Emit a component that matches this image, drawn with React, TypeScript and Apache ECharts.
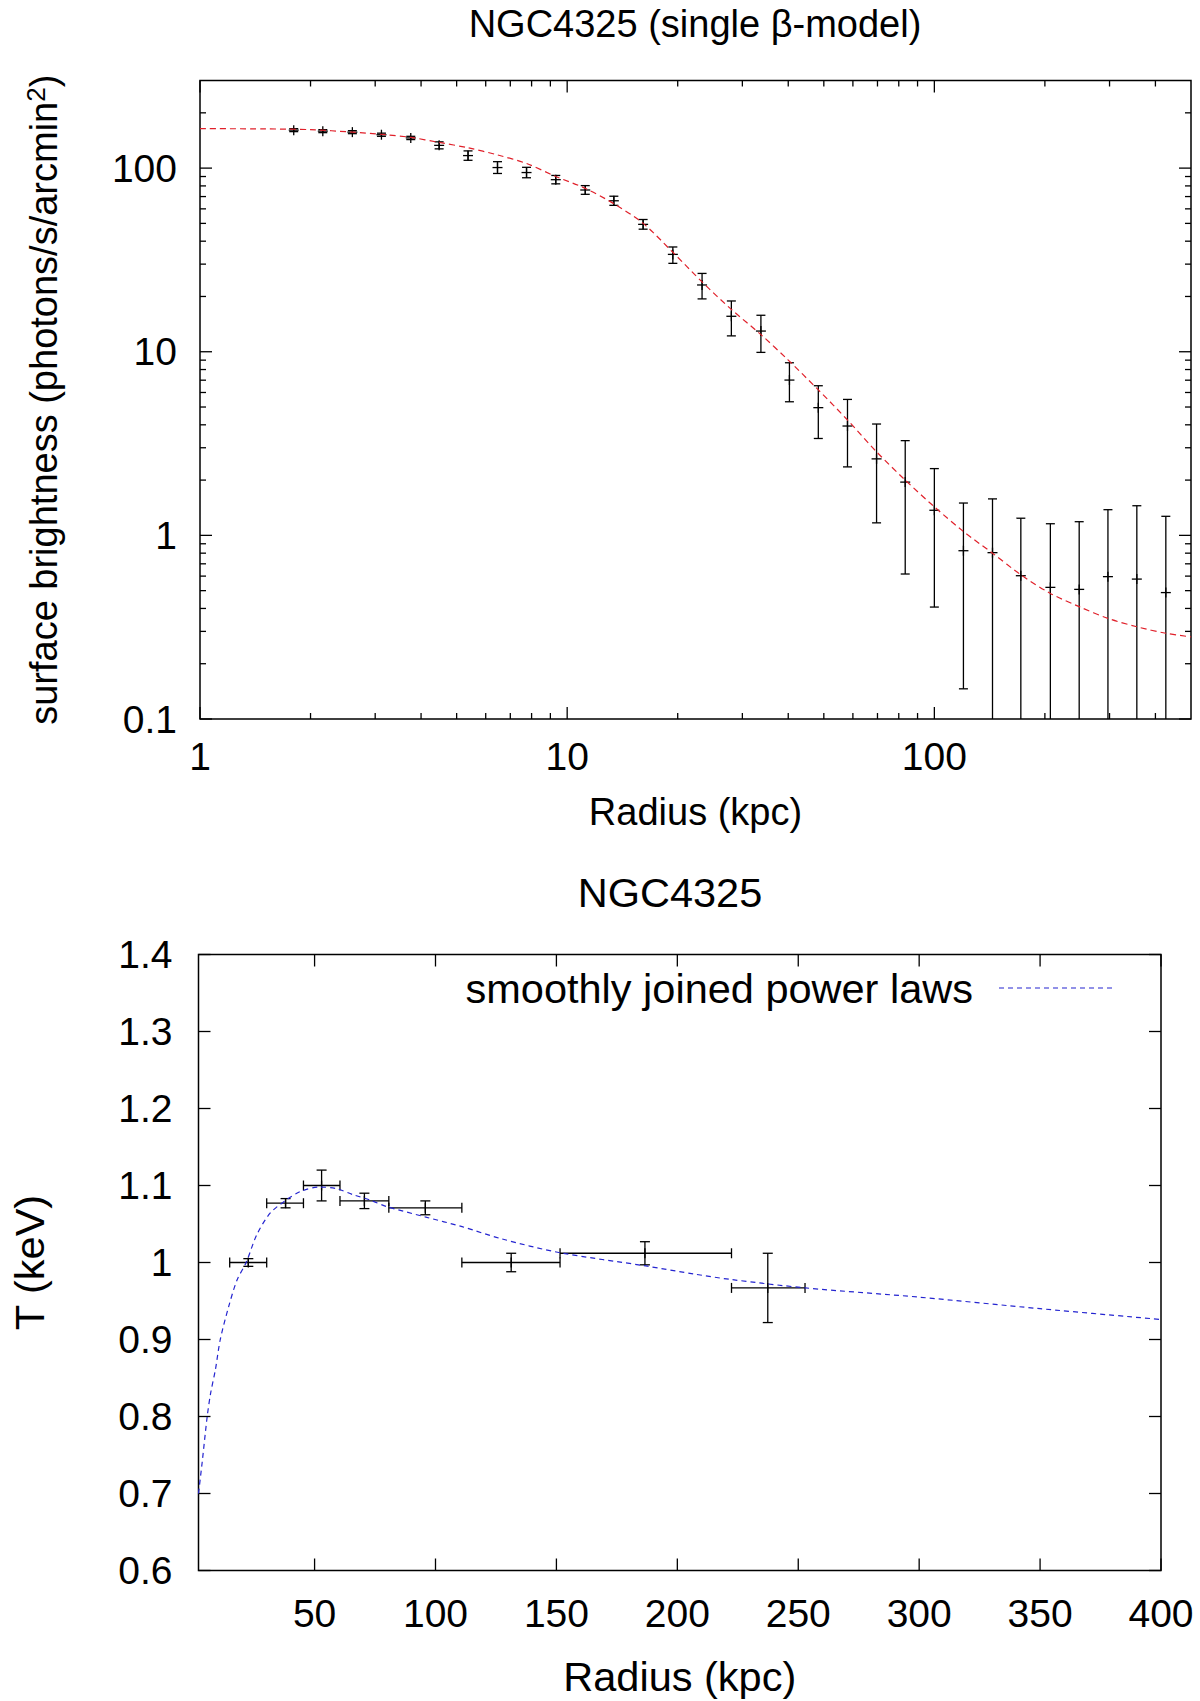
import React, { useEffect, useRef } from "react";
import * as echarts from "echarts";

const FONT = "'Liberation Sans', Arial, Helvetica, sans-serif";

// top panel: surface brightness profile
const sbRadius = [
  1.8, 2.16, 2.6, 3.12, 3.75, 4.48, 5.37, 6.46, 7.75, 9.31, 11.2, 13.4, 16.1, 19.4, 23.3, 28.0,
  33.7, 40.3, 48.3, 58.0, 69.6, 83.3, 100, 120, 144, 172, 207, 248, 297, 356, 427,
];
const sbValue = [
  161, 159, 157, 152, 146, 133, 117, 100.7, 94.6, 86.5, 76.0, 66.4, 49.4, 33.9, 23.1, 15.6,
  12.96, 7.01, 4.96, 3.94, 2.61, 1.95, 1.37, 0.825, 0.805, 0.603, 0.521, 0.508, 0.596, 0.578, 0.488,
];
const sbLow = [
  158, 156, 154, 149, 143, 127.3, 110.3, 93.5, 88.6, 82.1, 72.0, 62.7, 46.5, 30.3, 19.4, 12.2,
  9.92, 5.34, 3.37, 2.36, 1.17, 0.616, 0.407, 0.146, 0.01, 0.01, 0.01, 0.01, 0.01, 0.01, 0.01,
];
const sbHigh = [
  164, 162, 160, 155, 149, 139, 124.1, 108.4, 101, 91.2, 80.3, 70.3, 52.5, 37.2, 26.7, 18.9,
  15.8, 8.71, 6.53, 5.5, 4.04, 3.28, 2.31, 1.5, 1.58, 1.24, 1.157, 1.187, 1.38, 1.45, 1.27,
];
const sbModelRadius = [
  1, 1.5, 2, 2.6, 3.2, 3.75, 4.48, 5.37, 6.46, 7.75, 9.31, 11.2, 13.4, 16.1, 19.4, 23.3, 28,
  33.7, 40, 48.3, 58, 69.6, 83.3, 100, 120, 144, 172, 207, 248, 297, 356, 427, 500,
];
const sbModelValue = [
  164, 163.5, 162, 157, 152, 147, 138, 129, 118, 106, 90, 77.6, 64, 50, 34.8, 24, 17.0,
  12.4, 9.0, 6.2, 4.25, 2.85, 2.0, 1.43, 1.05, 0.8, 0.61, 0.483, 0.409, 0.353, 0.318, 0.293, 0.28,
];
const sbXMajor = [1, 10, 100];
const sbXMinor = [2, 3, 4, 5, 6, 7, 8, 9, 20, 30, 40, 50, 60, 70, 80, 90, 200, 300, 400];
const sbYMajor = [0.1, 1, 10, 100];
const sbYMinor = [
  0.2, 0.3, 0.4, 0.5, 0.6, 0.7, 0.8, 0.9, 2, 3, 4, 5, 6, 7, 8, 9, 20, 30, 40, 50, 60, 70, 80, 90, 200,
];

// bottom panel: temperature profile
const tRadius = [22.6, 38.0, 52.9, 70.6, 95.8, 131.3, 186.6, 237.4];
const tRadiusLow = [14.9, 30.2, 45.4, 60.5, 80.7, 110.9, 151.5, 222.4];
const tRadiusHigh = [30.2, 45.4, 60.5, 80.7, 110.9, 151.5, 222.4, 252.8];
const tValue = [1.0, 1.077, 1.1, 1.08, 1.071, 1.0, 1.012, 0.967];
const tError = [0.005, 0.006, 0.02, 0.01, 0.009, 0.012, 0.015, 0.045];
const tModelRadius = [
  2, 3.5, 5.6, 7, 9, 11, 14.5, 17.9, 21.7, 26.1, 31.6, 37.8, 44, 52, 59, 66, 73, 80, 96, 111,
  127, 151, 187, 207, 222, 253, 300, 350, 400,
];
const tModelValue = [
  0.7, 0.74, 0.8, 0.83, 0.861, 0.9, 0.943, 0.977, 1.0, 1.036, 1.064, 1.08, 1.092, 1.098, 1.096,
  1.088, 1.081, 1.0725, 1.059, 1.0465, 1.031, 1.013, 0.9955, 0.985, 0.978, 0.967, 0.955, 0.94, 0.926,
];
const tXTicks = [50, 100, 150, 200, 250, 300, 350, 400];
const tYTicks = [0.6, 0.7, 0.8, 0.9, 1.0, 1.1, 1.2, 1.3, 1.4];

const SB_X = [1, 500];
const SB_Y = [0.1, 300];
const T_X = [2, 400];
const T_Y = [0.6, 1.4];

const MAJOR = 12;
const MINOR = 6;
const INK = { stroke: "#000", lineWidth: 1.3 };

const line = (x1: number, y1: number, x2: number, y2: number, style: any = INK) => ({
  type: "line",
  shape: { x1, y1, x2, y2 },
  style,
});

// tick marks on all four sides, pointing inwards
const renderTick = (params: any, api: any) => {
  const cs = params.coordSys;
  const p = api.coord([api.value(0), api.value(1)]);
  const len = api.value(3);
  if (api.value(2) === 0) {
    const b = cs.y + cs.height;
    return {
      type: "group",
      children: [line(p[0], b, p[0], b - len), line(p[0], cs.y, p[0], cs.y + len)],
    };
  }
  const r = cs.x + cs.width;
  return {
    type: "group",
    children: [line(cs.x, p[1], cs.x + len, p[1]), line(r, p[1], r - len, p[1])],
  };
};

const renderSbError = (params: any, api: any) => {
  const x = api.value(0);
  const lo = api.value(2);
  const hi = api.value(3);
  const c = api.coord([x, api.value(1)]);
  const l = api.coord([x, Math.max(lo, SB_Y[0])]);
  const h = api.coord([x, Math.min(hi, SB_Y[1])]);
  const children: any[] = [
    line(c[0], l[1], c[0], h[1]),
    line(c[0] - 5, c[1], c[0] + 5, c[1]),
    line(c[0], c[1] - 5, c[0], c[1] + 5),
  ];
  if (lo >= SB_Y[0]) children.push(line(c[0] - 4.5, l[1], c[0] + 4.5, l[1]));
  if (hi <= SB_Y[1]) children.push(line(c[0] - 4.5, h[1], c[0] + 4.5, h[1]));
  return { type: "group", children };
};

const renderTError = (params: any, api: any) => {
  const c = api.coord([api.value(0), api.value(1)]);
  const xl = api.coord([api.value(2), api.value(1)])[0];
  const xh = api.coord([api.value(3), api.value(1)])[0];
  const yl = api.coord([api.value(0), api.value(4)])[1];
  const yh = api.coord([api.value(0), api.value(5)])[1];
  return {
    type: "group",
    children: [
      line(xl, c[1], xh, c[1]),
      line(xl, c[1] - 5, xl, c[1] + 5),
      line(xh, c[1] - 5, xh, c[1] + 5),
      line(c[0], yl, c[0], yh),
      line(c[0] - 5, yl, c[0] + 5, yl),
      line(c[0] - 5, yh, c[0] + 5, yh),
      line(c[0], c[1] - 5, c[0], c[1] + 5),
    ],
  };
};

const isDecade = (v: number) => Math.abs(Math.log10(v) - Math.round(Math.log10(v))) < 1e-6;
const decadeLabel = (v: number) => (isDecade(v) ? (v >= 1 ? String(Math.round(v)) : v.toFixed(1)) : "");

const labelStyle = (size: number, margin: number) => ({
  fontSize: size,
  color: "#000",
  fontFamily: FONT,
  margin,
});
const nameStyle = (size: number) => ({ fontSize: size, color: "#000", fontFamily: FONT });

const App: React.FC = () => {
  const chartRef = useRef<HTMLDivElement>(null);

  useEffect(() => {
    document.body.style.margin = "0";
    const chart = echarts.init(chartRef.current!, undefined, { renderer: "svg" });

    const sbTicks = [
      ...sbXMajor.map((v) => [v, SB_Y[0], 0, MAJOR]),
      ...sbXMinor.map((v) => [v, SB_Y[0], 0, MINOR]),
      ...sbYMajor.map((v) => [SB_X[0], v, 1, MAJOR]),
      ...sbYMinor.map((v) => [SB_X[0], v, 1, MINOR]),
    ];
    const tTicks = [
      ...tXTicks.map((v) => [v, T_Y[0], 0, MAJOR]),
      ...tYTicks.map((v) => [T_X[0], v, 1, MAJOR]),
    ];

    const option: echarts.EChartsOption = {
      animation: false,
      backgroundColor: "#fff",
      grid: [
        { left: 200, top: 80.5, width: 991, height: 638.5, show: true, borderColor: "#000", borderWidth: 1.5 },
        { left: 191, top: 954.5, width: 970, height: 616, show: true, borderColor: "#000", borderWidth: 1.5 },
      ],
      xAxis: [
        {
          gridIndex: 0,
          type: "log",
          logBase: 10,
          min: SB_X[0],
          max: SB_X[1],
          axisLine: { show: false },
          axisTick: { show: false },
          splitLine: { show: false },
          axisLabel: { ...labelStyle(39, 17.5), formatter: decadeLabel },
          name: "Radius (kpc)",
          nameLocation: "middle",
          nameGap: 73.5,
          nameTextStyle: nameStyle(38),
        },
        {
          gridIndex: 1,
          type: "value",
          min: T_X[0],
          max: T_X[1],
          axisLine: { show: false },
          axisTick: { show: false },
          splitLine: { show: false },
          axisLabel: { ...labelStyle(39, 23), customValues: tXTicks } as any,
          name: "Radius (kpc)",
          nameLocation: "middle",
          nameGap: 85,
          nameTextStyle: nameStyle(41.5),
        },
      ],
      yAxis: [
        {
          gridIndex: 0,
          type: "log",
          logBase: 10,
          min: SB_Y[0],
          max: SB_Y[1],
          axisLine: { show: false },
          axisTick: { show: false },
          splitLine: { show: false },
          axisLabel: { ...labelStyle(39, 23), formatter: decadeLabel },
          name: "surface brightness (photons/s/arcmin{sup|2})",
          nameLocation: "middle",
          nameGap: 135.4,
          nameTextStyle: {
            ...nameStyle(38),
            rich: { sup: { fontSize: 26, fontFamily: FONT, color: "#000", verticalAlign: "top", padding: [0, 0, 16, 0] } },
          },
        },
        {
          gridIndex: 1,
          type: "value",
          min: T_Y[0],
          max: T_Y[1],
          interval: 0.1,
          axisLine: { show: false },
          axisTick: { show: false },
          splitLine: { show: false },
          axisLabel: { ...labelStyle(39, 26), formatter: (v: number) => String(Math.round(v * 10) / 10) },
          name: "T (keV)",
          nameLocation: "middle",
          nameGap: 148.5,
          nameTextStyle: nameStyle(41.5),
        },
      ],
      series: [
        {
          type: "custom",
          xAxisIndex: 0,
          yAxisIndex: 0,
          renderItem: renderTick as any,
          data: sbTicks,
          silent: true,
        },
        {
          type: "line",
          xAxisIndex: 0,
          yAxisIndex: 0,
          data: sbModelRadius.map((r, i) => [r, sbModelValue[i]]),
          showSymbol: false,
          smooth: 0.3,
          lineStyle: { color: "#e0202a", width: 1.2, type: [6, 4] },
          silent: true,
        },
        {
          type: "custom",
          xAxisIndex: 0,
          yAxisIndex: 0,
          renderItem: renderSbError as any,
          data: sbRadius.map((r, i) => [r, sbValue[i], sbLow[i], sbHigh[i]]),
          z: 3,
        },
        {
          type: "custom",
          xAxisIndex: 1,
          yAxisIndex: 1,
          renderItem: renderTick as any,
          data: tTicks,
          silent: true,
        },
        {
          type: "line",
          name: "smoothly joined power laws",
          xAxisIndex: 1,
          yAxisIndex: 1,
          data: tModelRadius.map((r, i) => [r, tModelValue[i]]),
          showSymbol: false,
          smooth: 0.3,
          lineStyle: { color: "#2424d0", width: 1.2, type: [5, 4] },
          silent: true,
        },
        {
          type: "custom",
          xAxisIndex: 1,
          yAxisIndex: 1,
          renderItem: renderTError as any,
          data: tRadius.map((r, i) => [r, tValue[i], tRadiusLow[i], tRadiusHigh[i], tValue[i] - tError[i], tValue[i] + tError[i]]),
          z: 3,
        },
      ],
      graphic: [
        {
          type: "text",
          x: 695,
          y: 24,
          style: { text: "NGC4325 (single β-model)", fontSize: 38, fontFamily: FONT, fill: "#000", align: "center", verticalAlign: "middle" },
        },
        {
          type: "text",
          x: 670,
          y: 892,
          style: { text: "NGC4325", fontSize: 41.5, fontFamily: FONT, fill: "#000", align: "center", verticalAlign: "middle" },
        },
        {
          type: "text",
          x: 973,
          y: 988,
          style: { text: "smoothly joined power laws", fontSize: 41.5, fontFamily: FONT, fill: "#000", align: "right", verticalAlign: "middle" },
        },
        {
          type: "line",
          shape: { x1: 999, y1: 988, x2: 1112, y2: 988 },
          style: { stroke: "#2424d0", lineWidth: 1.2, lineDash: [5, 4] },
        },
      ],
    };

    chart.setOption(option);
    return () => {
      chart.dispose();
    };
  }, []);

  return <div ref={chartRef} style={{ width: "1200px", height: "1701px" }} />;
};

export default App;
